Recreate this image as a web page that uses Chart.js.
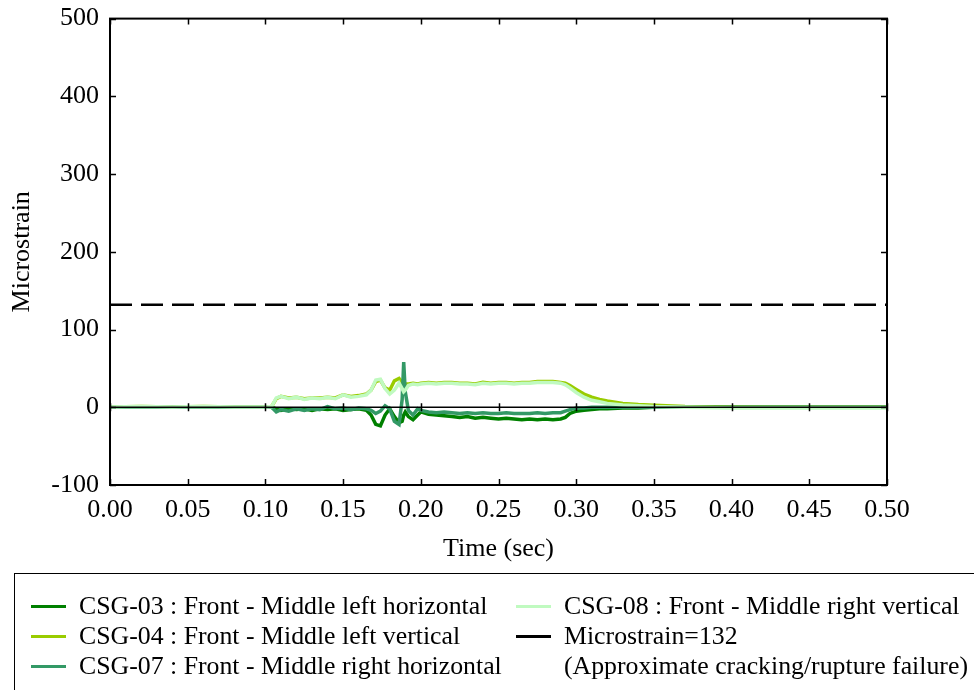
<!DOCTYPE html>
<html>
<head>
<meta charset="utf-8">
<script src="https://cdn.jsdelivr.net/npm/chart.js@4/dist/chart.umd.min.js"></script>
<style>
  html, body { margin: 0; padding: 0; background: #fff; overflow: hidden; }
  #wrap { position: relative; width: 974px; height: 690px; }
  #c { position: absolute; left: 0; top: 0; }
  #legend { position: absolute; left: 14px; top: 573px; width: 980px; height: 140px;
            border: 1.5px solid #000; box-sizing: border-box; }
  .sw { position: absolute; height: 3px; width: 35px; }
  .lt { position: absolute; font-family: "Liberation Serif", "DejaVu Serif", serif; font-size: 25.8px;
        line-height: 30px; color: #000; white-space: nowrap; }
</style>
</head>
<body>
<div id="wrap">
  <canvas id="c" width="974" height="690"></canvas>
  <div id="legend"></div>
</div>
<script>
// ---- data (time in seconds, microstrain) ----
const times = [0, 0.02, 0.04, 0.06, 0.08, 0.1, 0.104, 0.107, 0.11, 0.115, 0.12, 0.125, 0.13, 0.135, 0.14, 0.145,
  0.15, 0.155, 0.16, 0.165, 0.168, 0.171, 0.174, 0.177, 0.18, 0.183, 0.186, 0.188, 0.189, 0.19, 0.192, 0.195,
  0.198, 0.2, 0.205, 0.21, 0.215, 0.22, 0.225, 0.23, 0.235, 0.24, 0.245, 0.25, 0.255, 0.26, 0.265, 0.27,
  0.275, 0.28, 0.285, 0.29, 0.293, 0.296, 0.3, 0.305, 0.31, 0.315, 0.32, 0.33, 0.34, 0.35, 0.37, 0.4,
  0.43, 0.46, 0.5];

const csg03 = [0, 0, 0, 0, 0, 0, 0, -2, -4, -2, -3, -2, -4, -2, -3, -2,
  -4, -3, -2, -4, -10, -22, -24, -10, -2, -12, -20, -18, -10, -6, -12, -16,
  -10, -6, -9, -10, -11, -12, -13, -12, -14, -13, -14, -15, -14, -15, -16, -15,
  -16, -15, -16, -15, -13, -8, -5, -4, -3, -2, -2, -1, -1, 0, 0, 0,
  0, 0, 0];

const csg04 = [0.5, 1, 0.5, 1, 0.5, 0.5, 1, 11, 14, 12, 13, 11, 12, 12, 13, 12,
  16, 14, 15, 17, 22, 33, 35, 25, 22, 34, 37, 32, 30, 30, 30, 31,
  30, 31, 32, 31, 32, 32, 31, 31, 30, 32, 31, 32, 32, 31, 32, 32,
  33, 33, 33, 32, 31, 28, 23, 17, 13, 10, 8, 5, 3.5, 2.5, 1, 0.5,
  0, 0, 0];

const csg07 = [0, 0, 0, 0, 0, 0, 0, -6, -3, -5, -2, -4, -2, -3, 1, -2,
  -1, -3, -1, -2, -4, -8, -5, 2, -2, -18, -22, 10, 58, 20, -4, -10,
  -2, -4, -6, -7, -6, -7, -8, -7, -8, -7, -8, -8, -7, -8, -8, -8,
  -7, -8, -7, -7, -5, -3, -1, -1, 0, 0, 0, 0, 0, 0, 0, 0,
  0, 0, 0];

const csg08 = [0.5, 1, 0.5, 1, 0.5, 0.5, 1, 12, 14, 11, 13, 10, 12, 11, 13, 11,
  16, 13, 14, 16, 22, 35, 36, 24, 17, 22, 31, 24, 20, 22, 28, 30,
  29, 30, 31, 30, 31, 31, 30, 30, 29, 31, 30, 31, 31, 30, 31, 31,
  32, 32, 32, 31, 29, 25, 19, 13, 9, 7, 5, 3, 2, 1, 0, -1,
  -1, -1, -1];

const thresholdValue = 132;
const xRange = [0, 0.5];
const yRange = [-100, 500];
const xStep = 0.05;
const yStep = 100;

const seriesNames = [
  "CSG-03 : Front - Middle left horizontal",
  "CSG-04 : Front - Middle left vertical",
  "CSG-07 : Front - Middle right horizontal",
  "CSG-08 : Front - Middle right vertical"
];
const thresholdLabel = ["Microstrain=132", "(Approximate cracking/rupture failure)"];
const colors = ["#008000", "#99cc00", "#339966", "#c0fac0"];

const toXY = arr => times.map((t, i) => ({ x: t, y: arr[i] }));
const FONT = '"Liberation Serif", "DejaVu Serif", serif';

// ---- plugin: frame, inward ticks, zero axis ----
const framePlugin = {
  id: 'frame',
  afterDatasetsDraw(chart) {
    const ctx = chart.ctx, a = chart.chartArea;
    const xs = chart.scales.x, ys = chart.scales.y;
    ctx.save();
    ctx.strokeStyle = '#000';
    const y0 = ys.getPixelForValue(0);
    ctx.lineWidth = 1.5;
    ctx.beginPath(); ctx.moveTo(a.left, y0); ctx.lineTo(a.right, y0); ctx.stroke();
    const tl = 6;
    xs.ticks.forEach(t => {
      const px = Math.round(xs.getPixelForValue(t.value)) + 0.5;
      ctx.beginPath();
      ctx.moveTo(px, a.bottom); ctx.lineTo(px, a.bottom - tl);
      ctx.moveTo(px, a.top); ctx.lineTo(px, a.top + tl);
      ctx.moveTo(px, y0 - 4); ctx.lineTo(px, y0 + 4);
      ctx.stroke();
    });
    ys.ticks.forEach(t => {
      const py = Math.round(ys.getPixelForValue(t.value)) + 0.5;
      ctx.beginPath();
      ctx.moveTo(a.left, py); ctx.lineTo(a.left + tl, py);
      ctx.moveTo(a.right, py); ctx.lineTo(a.right - tl, py);
      ctx.stroke();
    });
    ctx.lineWidth = 2;
    ctx.strokeRect(a.left, a.top, a.right - a.left, a.bottom - a.top);
    ctx.restore();
  }
};

const datasets = seriesNames.map((name, i) => ({
  label: name,
  data: toXY([csg03, csg04, csg07, csg08][i]),
  borderColor: colors[i],
  backgroundColor: colors[i],
  borderWidth: 3.5,
  pointRadius: 0,
  tension: 0,
  fill: false,
  order: 4 - i
}));
datasets.push({
  label: thresholdLabel.join(' '),
  data: [{ x: xRange[0], y: thresholdValue }, { x: xRange[1], y: thresholdValue }],
  borderColor: '#000',
  borderWidth: 2.5,
  borderDash: [22, 9],
  pointRadius: 0,
  fill: false,
  order: 0
});

new Chart(document.getElementById('c'), {
  type: 'line',
  data: { datasets },
  options: {
    responsive: false,
    animation: false,
    events: [],
    layout: { padding: { left: 0, top: 14, right: 87, bottom: 121 } },
    plugins: { legend: { display: false }, tooltip: { enabled: false } },
    scales: {
      x: {
        type: 'linear', min: xRange[0], max: xRange[1],
        grid: { display: false },
        border: { display: false },
        ticks: {
          stepSize: xStep, color: '#000', padding: 2,
          font: { family: FONT, size: 26 },
          callback: v => Number(v).toFixed(2),
          maxRotation: 0, autoSkip: false
        },
        title: { display: true, text: 'Time (sec)', color: '#000', font: { family: FONT, size: 26 } },
        afterFit: s => { s.height = 84; }
      },
      y: {
        type: 'linear', min: yRange[0], max: yRange[1],
        grid: { display: false },
        border: { display: false },
        ticks: {
          stepSize: yStep, color: '#000', padding: 3,
          font: { family: FONT, size: 26 }
        },
        title: { display: true, text: 'Microstrain', color: '#000', font: { family: FONT, size: 26 },
                 padding: { top: 7, bottom: 4 } },
        afterFit: s => { s.width = 110; }
      }
    }
  },
  plugins: [framePlugin]
});

// ---- legend ----
const lg = document.getElementById('legend');
const L0 = 14, T0 = 573;
function addSwatch(x, yc, color) {
  const d = document.createElement('div');
  d.className = 'sw';
  d.style.left = (x - L0) + 'px';
  d.style.top = (yc - T0 - 1.5) + 'px';
  d.style.background = color;
  lg.appendChild(d);
}
function addText(x, yc, txt) {
  const s = document.createElement('div');
  s.className = 'lt';
  s.style.left = (x - L0) + 'px';
  s.style.top = (yc - T0 - 15) + 'px';
  s.textContent = txt;
  lg.appendChild(s);
}
const rows = [605, 635, 665];
[0, 1, 2].forEach(i => { addSwatch(30, rows[i], colors[i]); addText(78, rows[i], seriesNames[i]); });
addSwatch(515, rows[0], colors[3]); addText(563, rows[0], seriesNames[3]);
addSwatch(515, rows[1], '#000'); addText(563, rows[1], thresholdLabel[0]);
addText(563, rows[2], thresholdLabel[1]);
</script>
</body>
</html>
